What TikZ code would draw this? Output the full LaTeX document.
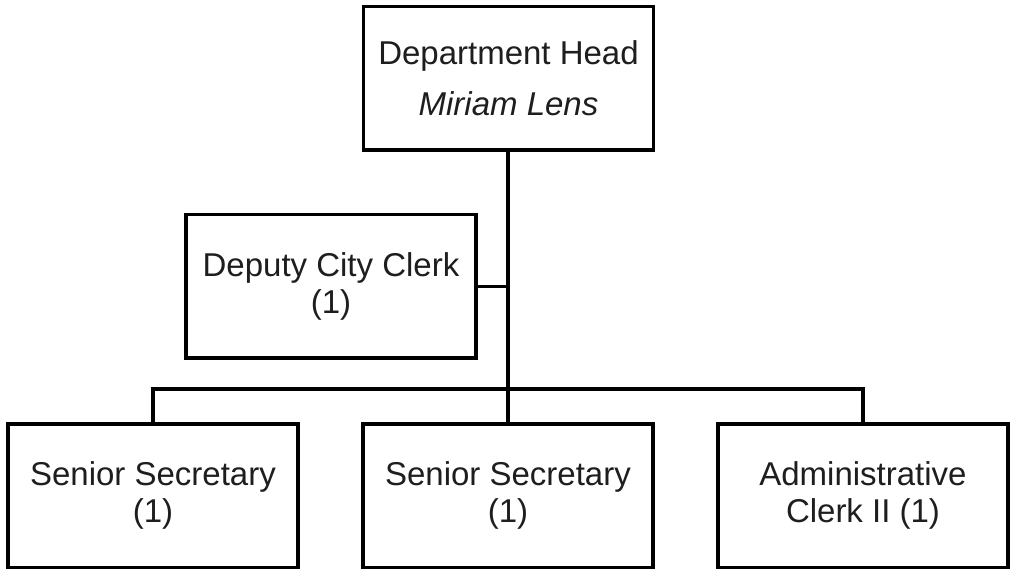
\documentclass[tikz,border=0pt]{standalone}
\usepackage{fontspec}
\setmainfont{Liberation Sans}
\definecolor{ink}{HTML}{1E1E1E}
\begin{document}
\begin{tikzpicture}[x=1pt,y=-1pt,
  box/.style={draw=black, line width=3.5pt, fill=white, align=center,
    minimum width=290pt, minimum height=143.5pt, inner sep=0pt,
    text=ink, font=\fontsize{33}{37}\selectfont},
  link/.style={draw=black, line width=3.2pt}]
\useasboundingbox (0,0) rectangle (1013,572);
% org chart boxes
\node[box] (head) at (508.5,78.5) {Department Head\\[14pt]\itshape Miriam Lens};
\node[box] (dep) at (331,286.5) {Deputy City Clerk\\(1)};
\node[box] (sec1) at (153,495.5) {Senior Secretary\\(1)};
\node[box] (sec2) at (508,495.5) {Senior Secretary\\(1)};
\node[box] (adm) at (863,495.5) {Administrative\\Clerk II (1)};
% reporting lines
\coordinate (bar) at (508,389);
\draw[link] (head.south -| sec2.north) -- (sec2.north);
\draw[link] (dep.east) -- (dep.east -| sec2.north);
\draw[link] (sec1.north) |- (bar) -| (adm.north);
\end{tikzpicture}
\end{document}
